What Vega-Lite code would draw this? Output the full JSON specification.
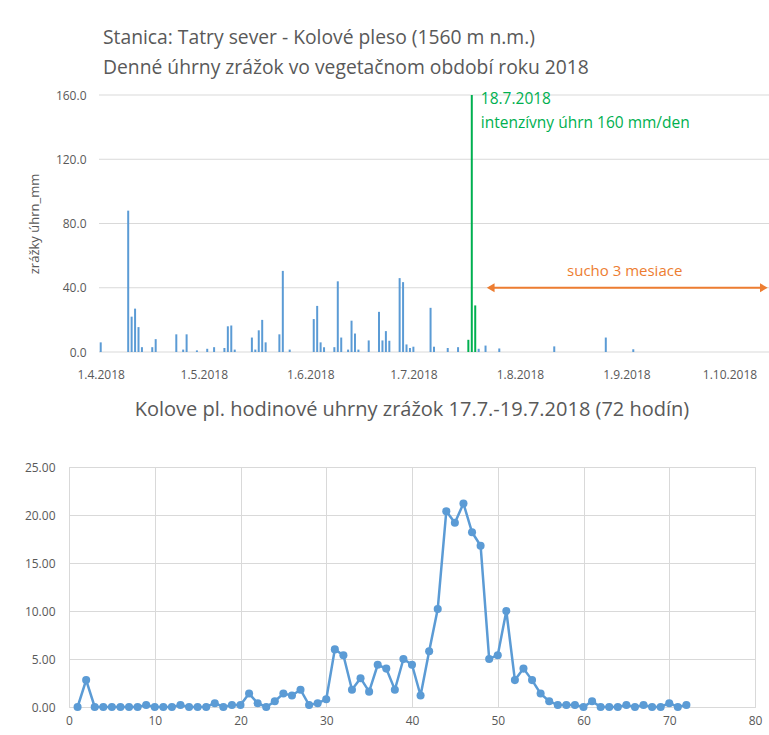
{
  "$schema": "https://vega.github.io/schema/vega-lite/v6.json",
  "padding": {"left": 23, "top": 28, "right": 0, "bottom": 5},
  "spacing": 19,
  "background": "white",
  "config": {
    "font": "Open Sans",
    "view": {"stroke": null},
    "axis": {
      "labelColor": "#595959",
      "labelFontSize": 12,
      "labelFont": "Open Sans",
      "titleColor": "#595959",
      "titleFont": "Open Sans",
      "titleFontWeight": "normal",
      "gridColor": "#D9D9D9",
      "gridWidth": 1,
      "domainColor": "#D9D9D9",
      "ticks": false
    }
  },
  "datasets": {
    "daily": [
      {"den": "2018-04-01", "mm": 6, "kat": "bežný"},
      {"den": "2018-04-09", "mm": 88, "kat": "bežný"},
      {"den": "2018-04-10", "mm": 22, "kat": "bežný"},
      {"den": "2018-04-11", "mm": 27, "kat": "bežný"},
      {"den": "2018-04-12", "mm": 15.5, "kat": "bežný"},
      {"den": "2018-04-13", "mm": 3, "kat": "bežný"},
      {"den": "2018-04-16", "mm": 3, "kat": "bežný"},
      {"den": "2018-04-17", "mm": 8, "kat": "bežný"},
      {"den": "2018-04-23", "mm": 11, "kat": "bežný"},
      {"den": "2018-04-25", "mm": 1.5, "kat": "bežný"},
      {"den": "2018-04-26", "mm": 11, "kat": "bežný"},
      {"den": "2018-04-29", "mm": 1, "kat": "bežný"},
      {"den": "2018-05-02", "mm": 2, "kat": "bežný"},
      {"den": "2018-05-04", "mm": 3, "kat": "bežný"},
      {"den": "2018-05-07", "mm": 2.5, "kat": "bežný"},
      {"den": "2018-05-08", "mm": 16, "kat": "bežný"},
      {"den": "2018-05-09", "mm": 16.5, "kat": "bežný"},
      {"den": "2018-05-10", "mm": 1.5, "kat": "bežný"},
      {"den": "2018-05-15", "mm": 9, "kat": "bežný"},
      {"den": "2018-05-16", "mm": 1.5, "kat": "bežný"},
      {"den": "2018-05-17", "mm": 13.5, "kat": "bežný"},
      {"den": "2018-05-18", "mm": 20, "kat": "bežný"},
      {"den": "2018-05-19", "mm": 6, "kat": "bežný"},
      {"den": "2018-05-23", "mm": 11, "kat": "bežný"},
      {"den": "2018-05-24", "mm": 50.5, "kat": "bežný"},
      {"den": "2018-05-26", "mm": 1.5, "kat": "bežný"},
      {"den": "2018-06-02", "mm": 20.5, "kat": "bežný"},
      {"den": "2018-06-03", "mm": 28.7, "kat": "bežný"},
      {"den": "2018-06-04", "mm": 6, "kat": "bežný"},
      {"den": "2018-06-05", "mm": 3, "kat": "bežný"},
      {"den": "2018-06-08", "mm": 3, "kat": "bežný"},
      {"den": "2018-06-09", "mm": 44, "kat": "bežný"},
      {"den": "2018-06-10", "mm": 9, "kat": "bežný"},
      {"den": "2018-06-12", "mm": 1.5, "kat": "bežný"},
      {"den": "2018-06-13", "mm": 19.5, "kat": "bežný"},
      {"den": "2018-06-14", "mm": 11.5, "kat": "bežný"},
      {"den": "2018-06-15", "mm": 1.5, "kat": "bežný"},
      {"den": "2018-06-18", "mm": 7.2, "kat": "bežný"},
      {"den": "2018-06-21", "mm": 25, "kat": "bežný"},
      {"den": "2018-06-22", "mm": 7.2, "kat": "bežný"},
      {"den": "2018-06-23", "mm": 13, "kat": "bežný"},
      {"den": "2018-06-24", "mm": 7, "kat": "bežný"},
      {"den": "2018-06-27", "mm": 46, "kat": "bežný"},
      {"den": "2018-06-28", "mm": 43.5, "kat": "bežný"},
      {"den": "2018-06-29", "mm": 4.7, "kat": "bežný"},
      {"den": "2018-06-30", "mm": 2.5, "kat": "bežný"},
      {"den": "2018-07-01", "mm": 3.3, "kat": "bežný"},
      {"den": "2018-07-06", "mm": 27.5, "kat": "bežný"},
      {"den": "2018-07-07", "mm": 3.3, "kat": "bežný"},
      {"den": "2018-07-11", "mm": 2.5, "kat": "bežný"},
      {"den": "2018-07-14", "mm": 3, "kat": "bežný"},
      {"den": "2018-07-17", "mm": 7.6, "kat": "intenzívny"},
      {"den": "2018-07-18", "mm": 160, "kat": "intenzívny"},
      {"den": "2018-07-19", "mm": 29, "kat": "intenzívny"},
      {"den": "2018-07-20", "mm": 2, "kat": "bežný"},
      {"den": "2018-07-22", "mm": 4, "kat": "bežný"},
      {"den": "2018-07-26", "mm": 2.2, "kat": "bežný"},
      {"den": "2018-08-11", "mm": 3.5, "kat": "bežný"},
      {"den": "2018-08-26", "mm": 9, "kat": "bežný"},
      {"den": "2018-09-03", "mm": 1.7, "kat": "bežný"}
    ],
    "hourly": [
      {"hodina": 1, "mm": 0}, {"hodina": 2, "mm": 2.8}, {"hodina": 3, "mm": 0}, {"hodina": 4, "mm": 0},
      {"hodina": 5, "mm": 0}, {"hodina": 6, "mm": 0}, {"hodina": 7, "mm": 0}, {"hodina": 8, "mm": 0},
      {"hodina": 9, "mm": 0.2}, {"hodina": 10, "mm": 0}, {"hodina": 11, "mm": 0}, {"hodina": 12, "mm": 0},
      {"hodina": 13, "mm": 0.2}, {"hodina": 14, "mm": 0}, {"hodina": 15, "mm": 0}, {"hodina": 16, "mm": 0},
      {"hodina": 17, "mm": 0.4}, {"hodina": 18, "mm": 0}, {"hodina": 19, "mm": 0.2}, {"hodina": 20, "mm": 0.2},
      {"hodina": 21, "mm": 1.4}, {"hodina": 22, "mm": 0.4}, {"hodina": 23, "mm": 0}, {"hodina": 24, "mm": 0.6},
      {"hodina": 25, "mm": 1.4}, {"hodina": 26, "mm": 1.2}, {"hodina": 27, "mm": 1.8}, {"hodina": 28, "mm": 0.2},
      {"hodina": 29, "mm": 0.4}, {"hodina": 30, "mm": 0.8}, {"hodina": 31, "mm": 6.0}, {"hodina": 32, "mm": 5.4},
      {"hodina": 33, "mm": 1.8}, {"hodina": 34, "mm": 3.0}, {"hodina": 35, "mm": 1.6}, {"hodina": 36, "mm": 4.4},
      {"hodina": 37, "mm": 4.0}, {"hodina": 38, "mm": 1.8}, {"hodina": 39, "mm": 5.0}, {"hodina": 40, "mm": 4.4},
      {"hodina": 41, "mm": 1.2}, {"hodina": 42, "mm": 5.8}, {"hodina": 43, "mm": 10.2}, {"hodina": 44, "mm": 20.4},
      {"hodina": 45, "mm": 19.2}, {"hodina": 46, "mm": 21.2}, {"hodina": 47, "mm": 18.2}, {"hodina": 48, "mm": 16.8},
      {"hodina": 49, "mm": 5.0}, {"hodina": 50, "mm": 5.4}, {"hodina": 51, "mm": 10.0}, {"hodina": 52, "mm": 2.8},
      {"hodina": 53, "mm": 4.0}, {"hodina": 54, "mm": 2.8}, {"hodina": 55, "mm": 1.4}, {"hodina": 56, "mm": 0.6},
      {"hodina": 57, "mm": 0.2}, {"hodina": 58, "mm": 0.2}, {"hodina": 59, "mm": 0.2}, {"hodina": 60, "mm": 0},
      {"hodina": 61, "mm": 0.6}, {"hodina": 62, "mm": 0}, {"hodina": 63, "mm": 0}, {"hodina": 64, "mm": 0},
      {"hodina": 65, "mm": 0.2}, {"hodina": 66, "mm": 0}, {"hodina": 67, "mm": 0.2}, {"hodina": 68, "mm": 0},
      {"hodina": 69, "mm": 0}, {"hodina": 70, "mm": 0.4}, {"hodina": 71, "mm": 0}, {"hodina": 72, "mm": 0.2}
    ],
    "mriezka": [
      {"mm": 0, "druh": "os"},
      {"mm": 40, "druh": "mriezka"},
      {"mm": 80, "druh": "mriezka"},
      {"mm": 120, "druh": "mriezka"},
      {"mm": 160, "druh": "mriezka"}
    ]
  },
  "vconcat": [
    {
      "title": {
        "text": ["Stanica: Tatry sever - Kolové pleso (1560 m n.m.)", "Denné úhrny zrážok vo vegetačnom období roku 2018"],
        "anchor": "start",
        "frame": "group",
        "fontSize": 19.3,
        "fontWeight": "normal",
        "color": "#595959",
        "lineHeight": 30,
        "offset": 11,
        "dx": 34
      },
      "width": 700,
      "height": 257,
      "layer": [
        {
          "data": {"name": "mriezka"},
          "mark": {"type": "rule", "color": "#D9D9D9", "strokeWidth": 1},
          "encoding": {
            "x": {"datum": {"year": 2018, "month": 3, "date": 31, "hours": 12, "utc": true}},
            "x2": {"datum": {"year": 2018, "month": 10, "date": 12, "hours": 12, "utc": true}},
            "y": {"field": "mm", "type": "quantitative"}
          }
        },
        {
          "data": {"name": "daily"},
          "mark": {"type": "bar", "width": 2},
          "encoding": {
            "x": {
              "field": "den",
              "type": "temporal",
              "scale": {
                "type": "utc",
                "padding": 0,
                "domain": [
                  {"year": 2018, "month": 3, "date": 22, "hours": 18, "minutes": 30, "utc": true},
                  {"year": 2018, "month": 10, "date": 12, "hours": 12, "utc": true}
                ]
              },
              "axis": {
                "title": null,
                "grid": false,
                "domain": false,
                "labelExpr": "utcFormat(datum.value, '%-d.%-m.%Y')",
                "labelPadding": 17,
                "labelFlush": false,
                "labelOverlap": false,
                "values": [
                  {"year": 2018, "month": 4, "date": 1, "utc": true},
                  {"year": 2018, "month": 5, "date": 1, "utc": true},
                  {"year": 2018, "month": 6, "date": 1, "utc": true},
                  {"year": 2018, "month": 7, "date": 1, "utc": true},
                  {"year": 2018, "month": 8, "date": 1, "utc": true},
                  {"year": 2018, "month": 9, "date": 1, "utc": true},
                  {"year": 2018, "month": 10, "date": 1, "utc": true}
                ]
              }
            },
            "y": {
              "field": "mm",
              "type": "quantitative",
              "scale": {"domain": [0, 160]},
              "axis": {
                "title": "zrážky úhrn_mm",
                "titleFontSize": 13,
                "titlePadding": 14,
                "format": ".1f",
                "values": [0, 40, 80, 120, 160],
                "domain": false,
                "grid": false,
                "offset": -30,
                "labelPadding": 13
              }
            },
            "color": {
              "field": "kat",
              "type": "nominal",
              "scale": {"domain": ["bežný", "intenzívny"], "range": ["#5B9BD5", "#00B050"]},
              "legend": null
            }
          }
        },
        {
          "data": {"values": [{}]},
          "mark": {"type": "rule", "color": "#ED7D31", "strokeWidth": 2},
          "encoding": {
            "x": {"datum": {"year": 2018, "month": 7, "date": 23, "utc": true}},
            "x2": {"datum": {"year": 2018, "month": 10, "date": 11, "utc": true}},
            "y": {"datum": 40}
          }
        },
        {
          "data": {"values": [{}]},
          "mark": {"type": "point", "shape": "triangle-left", "filled": true, "color": "#ED7D31", "size": 80, "opacity": 1},
          "encoding": {
            "x": {"datum": {"year": 2018, "month": 7, "date": 23, "hours": 12, "utc": true}},
            "y": {"datum": 40}
          }
        },
        {
          "data": {"values": [{}]},
          "mark": {"type": "point", "shape": "triangle-right", "filled": true, "color": "#ED7D31", "size": 80, "opacity": 1},
          "encoding": {
            "x": {"datum": {"year": 2018, "month": 10, "date": 11, "utc": true}},
            "y": {"datum": 40}
          }
        },
        {
          "data": {"values": [{}]},
          "mark": {"type": "text", "text": "sucho 3 mesiace", "color": "#ED7D31", "fontSize": 15, "align": "center", "baseline": "middle", "dy": -17},
          "encoding": {
            "x": {"datum": {"year": 2018, "month": 8, "date": 31, "hours": 12, "utc": true}},
            "y": {"datum": 40}
          }
        },
        {
          "data": {"values": [{}]},
          "mark": {"type": "text", "text": ["18.7.2018", "intenzívny úhrn 160 mm/den"], "color": "#00B050", "fontSize": 15.5, "align": "left", "baseline": "top", "lineHeight": 24, "dx": 9, "dy": -3},
          "encoding": {
            "x": {"datum": {"year": 2018, "month": 7, "date": 18, "utc": true}},
            "y": {"datum": 160}
          }
        }
      ]
    },
    {
      "title": {
        "text": "Kolove pl. hodinové uhrny zrážok 17.7.-19.7.2018 (72 hodín)",
        "anchor": "middle",
        "frame": "group",
        "fontSize": 20,
        "fontWeight": "normal",
        "color": "#595959",
        "offset": 41
      },
      "width": 686,
      "height": 240,
      "view": {"stroke": "#D9D9D9"},
      "data": {"name": "hourly"},
      "mark": {"type": "line", "color": "#5B9BD5", "strokeWidth": 2.5, "point": {"filled": true, "size": 65, "color": "#5B9BD5", "opacity": 1}},
      "encoding": {
        "x": {
          "field": "hodina",
          "type": "quantitative",
          "scale": {"domain": [0, 80], "nice": false},
          "axis": {"title": null, "values": [0, 10, 20, 30, 40, 50, 60, 70, 80], "grid": true, "domain": false, "labelPadding": 8, "labelFlush": false}
        },
        "y": {
          "field": "mm",
          "type": "quantitative",
          "scale": {"domain": [0, 25], "nice": false},
          "axis": {"title": null, "format": ".2f", "values": [0, 5, 10, 15, 20, 25], "domain": false, "labelPadding": 14}
        }
      }
    }
  ]
}
